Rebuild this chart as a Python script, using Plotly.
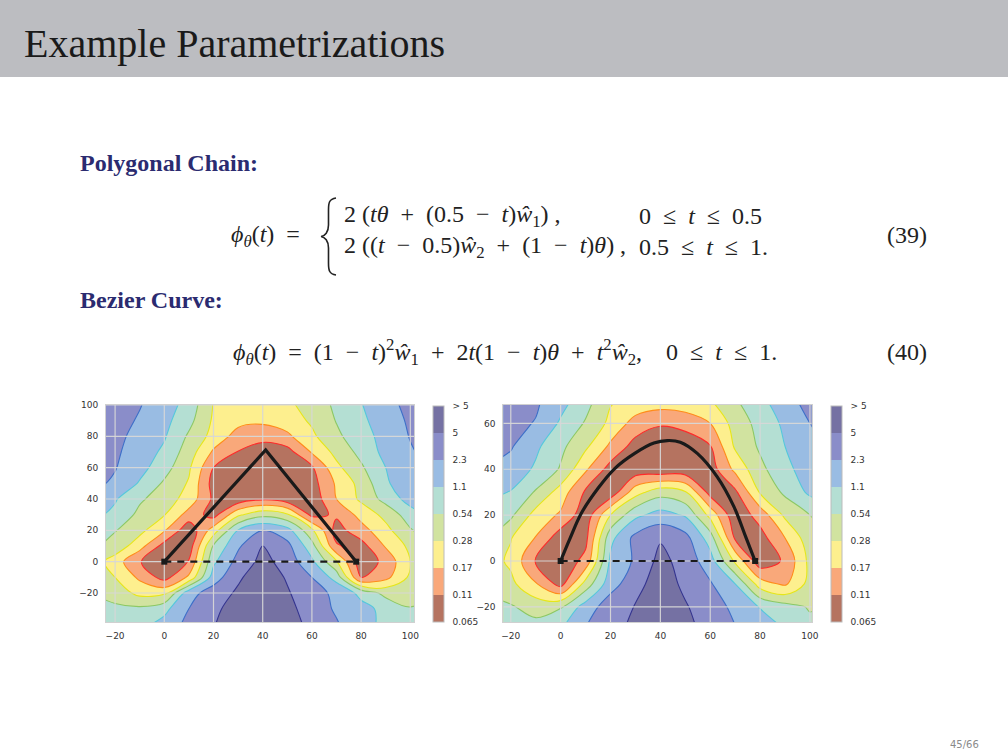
import plotly.graph_objects as go

# grid nodes of the loss surface, in colour-band units
# (0..1 brown, 1..2 orange, ... 7..8 dark purple)
grid_x = [-30, -20, -10, 0, 10, 20, 30, 40, 50, 60, 70, 80, 90, 100, 110]

grid_y_poly = [-40, -30, -20, -10, 0, 10, 20, 30, 40, 50, 60, 70, 80, 90, 100]
z_poly = [
    [4.7, 4.6, 4.7, 5.35, 6.3, 6.95, 7.5, 8.0, 7.4, 6.75, 6.1, 5.3, 4.8, 4.4, 4.5],
    [4.4, 4.2, 4.2, 4.7, 6.0, 6.8, 7.4, 7.9, 7.25, 6.6, 5.85, 5.35, 4.7, 4.05, 4.3],
    [4.0, 3.6, 2.7, 2.75, 5.6, 6.5, 7.15, 7.8, 7.1, 6.35, 5.8, 4.7, 3.7, 3.6, 4.0],
    [3.7, 3.0, 1.8, 0.6, 2.2, 5.5, 6.85, 7.6, 6.9, 6.0, 4.6, 0.9, 1.7, 3.2, 3.9],
    [3.6, 2.5, 1.05, 0.3, 1.05, 4.8, 6.35, 7.3, 6.6, 5.2, 3.1, 0.3, 1.3, 3.0, 3.8],
    [4.2, 3.65, 2.4, 0.6, 0.45, 4.1, 5.85, 7.0, 6.3, 4.4, 1.1, 0.6, 2.1, 3.25, 4.3],
    [4.5, 4.05, 3.3, 2.1, 0.3, 2.5, 5.05, 6.0, 5.4, 3.2, 0.6, 1.6, 2.7, 3.9, 4.7],
    [5.3, 4.75, 3.75, 3.05, 1.6, 0.6, 2.8, 3.7, 3.15, 0.7, 1.15, 2.35, 3.3, 4.55, 5.3],
    [5.7, 5.1, 4.15, 3.5, 2.6, 0.8, 0.35, 0.85, 0.4, 0.35, 2.0, 3.2, 4.35, 5.4, 6.0],
    [6.25, 5.85, 4.9, 3.85, 2.9, 0.6, 0.35, 0.5, 0.35, 0.6, 2.15, 3.35, 4.85, 5.7, 6.2],
    [6.4, 6.05, 5.35, 4.4, 3.15, 1.0, 0.4, 0.35, 0.35, 0.85, 2.75, 3.85, 5.0, 5.85, 6.2],
    [6.55, 6.15, 5.55, 4.8, 3.5, 1.85, 0.95, 0.45, 0.6, 2.1, 3.3, 4.3, 5.3, 5.9, 6.4],
    [6.6, 6.25, 5.7, 5.1, 3.85, 2.65, 1.6, 1.35, 1.8, 2.8, 3.8, 4.6, 5.35, 6.05, 6.5],
    [6.7, 6.35, 5.9, 5.3, 4.3, 2.85, 2.3, 2.2, 2.5, 3.15, 4.05, 4.8, 5.5, 6.15, 6.7],
    [6.8, 6.45, 6.05, 5.5, 4.6, 2.95, 2.6, 2.5, 2.8, 3.4, 4.2, 4.95, 5.65, 6.3, 6.85],
]

grid_y_bez = [-30, -20, -10, 0, 10, 20, 30, 40, 50, 60, 70]
z_bez = [
    [4.6, 4.5, 4.45, 4.95, 6.05, 6.75, 7.2, 7.95, 7.3, 6.65, 6.05, 5.45, 5.0, 4.35, 4.1],
    [4.3, 4.1, 3.6, 3.9, 5.45, 6.55, 7.05, 7.8, 7.1, 6.4, 5.8, 4.95, 4.4, 3.9, 4.2],
    [3.7, 3.25, 2.1, 0.6, 3.4, 5.6, 6.6, 7.6, 6.75, 6.1, 5.0, 2.5, 1.8, 3.35, 3.9],
    [3.55, 2.8, 0.95, 0.3, 1.3, 5.2, 6.15, 7.3, 6.6, 5.45, 2.8, 0.35, 1.15, 3.3, 3.7],
    [4.05, 3.05, 1.95, 0.4, 0.7, 4.7, 6.3, 6.9, 6.35, 4.5, 0.85, 0.6, 2.0, 3.6, 4.2],
    [4.55, 4.2, 2.6, 1.85, 0.35, 3.0, 4.75, 5.4, 4.9, 2.7, 0.3, 1.4, 3.2, 4.0, 4.6],
    [5.3, 4.95, 3.9, 2.55, 0.85, 0.3, 2.6, 3.6, 3.1, 0.6, 0.8, 3.1, 4.2, 5.2, 5.7],
    [5.95, 5.6, 4.85, 3.9, 2.15, 0.6, 0.35, 0.25, 0.3, 0.5, 2.25, 3.75, 4.7, 5.55, 6.0],
    [6.35, 6.1, 5.2, 4.25, 3.2, 1.8, 0.6, 0.3, 0.35, 0.95, 3.15, 4.15, 5.0, 5.7, 6.2],
    [6.55, 6.25, 5.95, 4.85, 3.9, 2.75, 1.6, 1.1, 1.35, 2.0, 3.4, 4.35, 5.2, 6.0, 6.5],
    [6.7, 6.45, 6.15, 5.4, 4.4, 3.1, 2.75, 2.6, 2.7, 2.95, 3.9, 4.75, 5.6, 6.4, 7.1],
]

# paths
poly_x = [0, 41.2, 78]
poly_y = [0, 71.3, 0]
bez_x = [0, 3.6, 8.3, 15, 21.7, 29.7, 37.4, 42.8, 48, 54.8, 62.8, 69.5, 74.2, 78]
bez_y = [0, 9.4, 20.8, 31.7, 40.3, 46.9, 51.4, 52.5, 51.8, 46.9, 36.7, 23.7, 10.6, 0]
end_x = [0, 78]
end_y = [0, 0]

# colour bar
band_labels = ["0.065", "0.11", "0.17", "0.28", "0.54", "1.1", "2.3", "5", "> 5"]
fill_colors = ["#b57360", "#f9a87a", "#fdef8e", "#d1e3a0", "#b4dfd3",
               "#99bce3", "#8a8dc9", "#7571a3"]
line_colors = ["#ff2a2a", "#ff8c1a", "#e6e61a", "#8cc864", "#55c8dc",
               "#3d6fc8", "#34348f"]

x_ticks = [-20, 0, 20, 40, 60, 80, 100]
y_ticks_poly = [-20, 0, 20, 40, 60, 80, 100]
y_ticks_bez = [-20, 0, 20, 40, 60]
x_range_poly = [-23.7, 101.5]
y_range_poly = [-38.5, 100]
x_range_bez = [-23, 100.7]
y_range_bez = [-26.6, 68]

W, H = 1008, 756
TXT = "#222"
BLUE_TXT = "#2b2b70"
SERIF = "Liberation Serif, Times New Roman, serif"

fill_scale = [[i / 7, c] for i, c in enumerate(fill_colors)]
line_scale = [[i / 6, c] for i, c in enumerate(line_colors)]


def cbar(x0):
    return dict(
        x=x0 / W, xanchor="left", xpad=0, ypad=0,
        y=1 - 513.7 / H, yanchor="middle",
        len=216 / H, lenmode="fraction",
        thickness=11, thicknessmode="pixels",
        outlinecolor="#bbbbbb", outlinewidth=1,
        tickvals=list(range(9)), ticktext=["&nbsp;&nbsp;" + t for t in band_labels],
        ticks="", tickfont=dict(family="DejaVu Sans", size=9, color="#333"),
    )


fig = go.Figure()


def add_panel(xa, ya, gy, z, cb_x, path_x, path_y, spline):
    fig.add_trace(go.Contour(
        x=grid_x, y=gy, z=z, xaxis=xa, yaxis=ya,
        autocontour=False, contours=dict(start=1, end=7, size=1, coloring="fill"),
        colorscale=fill_scale, zmin=0, zmax=8,
        line=dict(width=0, smoothing=1.0),
        colorbar=cbar(cb_x), hoverinfo="skip",
    ))
    fig.add_trace(go.Contour(
        x=grid_x, y=gy, z=z, xaxis=xa, yaxis=ya,
        autocontour=False, contours=dict(start=1, end=7, size=1, coloring="lines"),
        colorscale=line_scale, showscale=False,
        line=dict(width=1.1, smoothing=1.0), hoverinfo="skip",
    ))
    # grid drawn over the fills
    xr = fig.layout[xa.replace("x", "xaxis")].range
    yr = fig.layout[ya.replace("y", "yaxis")].range
    gx, gyl = [], []
    for t in x_ticks:
        gx += [t, t, None]
        gyl += [yr[0], yr[1], None]
    yt = y_ticks_poly if ya == "y" else y_ticks_bez
    for t in yt:
        gx += [xr[0], xr[1], None]
        gyl += [t, t, None]
    fig.add_trace(go.Scatter(x=gx, y=gyl, xaxis=xa, yaxis=ya, mode="lines",
                             line=dict(color="rgba(215,215,215,0.95)", width=1.2),
                             hoverinfo="skip", showlegend=False))
    fig.add_trace(go.Scatter(x=end_x, y=end_y, xaxis=xa, yaxis=ya, mode="lines",
                             line=dict(color="#1a1a1a", width=2.2, dash="7px,6px"),
                             hoverinfo="skip", showlegend=False))
    fig.add_trace(go.Scatter(x=path_x, y=path_y, xaxis=xa, yaxis=ya, mode="lines",
                             line=dict(color="#1a1a1a", width=3.2,
                                       shape="spline" if spline else "linear"),
                             hoverinfo="skip", showlegend=False))
    fig.add_trace(go.Scatter(x=end_x, y=end_y, xaxis=xa, yaxis=ya, mode="markers",
                             marker=dict(color="#1a1a1a", size=6, symbol="square"),
                             hoverinfo="skip", showlegend=False))


axis_common = dict(showgrid=False, zeroline=False, ticks="", showline=True, mirror=True,
                   linecolor="#d0d0d0", linewidth=1, ticklabelstandoff=5,
                   tickfont=dict(family="DejaVu Sans", size=9, color="#333"))

fig.update_layout(
    width=W, height=H, margin=dict(l=0, r=0, t=0, b=0, pad=0, autoexpand=False),
    paper_bgcolor="white", plot_bgcolor="white", showlegend=False,
    xaxis=dict(domain=[106 / W, 414 / W], range=x_range_poly, tickvals=x_ticks,
               anchor="y", **axis_common),
    yaxis=dict(domain=[1 - 622 / H, 1 - 405 / H], range=y_range_poly,
               tickvals=y_ticks_poly, anchor="x", **axis_common),
    xaxis2=dict(domain=[503.3 / W, 811.7 / W], range=x_range_bez, tickvals=x_ticks,
                anchor="y2", **axis_common),
    yaxis2=dict(domain=[1 - 622 / H, 1 - 405 / H], range=y_range_bez,
                tickvals=y_ticks_bez, anchor="x2", **axis_common),
)

add_panel("x", "y", grid_y_poly, z_poly, 433, poly_x, poly_y, False)
add_panel("x2", "y2", grid_y_bez, z_bez, 830.7, bez_x, bez_y, True)

# slide header
fig.add_shape(type="rect", xref="paper", yref="paper", x0=0, x1=1, y0=1 - 77 / H, y1=1,
              fillcolor="#bcbdc1", line=dict(width=0), layer="below")


def P(px, py):
    return f"{px / W:.5f},{1 - py / H:.5f}"


# curly brace of the case distinction
brace = ("M " + P(336, 198) + " C " + P(329, 199) + " " + P(328.5, 203) + " " + P(328.5, 210)
         + " L " + P(328.5, 225) + " C " + P(328.5, 232) + " " + P(325, 236) + " " + P(321, 236.5)
         + " C " + P(325, 237) + " " + P(328.5, 241) + " " + P(328.5, 248)
         + " L " + P(328.5, 263) + " C " + P(328.5, 270) + " " + P(329, 274) + " " + P(336, 275))
fig.add_shape(type="path", xref="paper", yref="paper", path=brace,
              line=dict(color=TXT, width=1.6))


def note(px, py, text, size=24, color=TXT, anchor="left", family=SERIF):
    fig.add_annotation(x=px / W, y=1 - py / H, xref="paper", yref="paper", text=text,
                       showarrow=False, xanchor=anchor, yanchor="middle",
                       font=dict(family=family, size=size, color=color))


S = "&nbsp;"
op = lambda o: S + S + o + S + S

note(22, 44, "Example Parametrizations", size=40, color="#1a1a1a")
note(78, 163, "<b>Polygonal Chain:</b>", size=24, color=BLUE_TXT)
note(78, 300, "<b>Bezier Curve:</b>", size=24, color=BLUE_TXT)

phi = "<i>ϕ</i><sub><i>θ</i></sub>(<i>t</i>)"
note(229, 236, phi + op("="))
note(342, 216, "2" + S + "(<i>tθ</i>" + op("+") + "(0.5" + op("−") + "<i>t</i>)<i>ŵ</i><sub>1</sub>)" + S + ",")
note(637, 216, "0" + op("≤") + "<i>t</i>" + op("≤") + "0.5")
note(342, 247, "2" + S + "((<i>t</i>" + op("−") + "0.5)<i>ŵ</i><sub>2</sub>" + op("+") + "(1" + op("−")
     + "<i>t</i>)<i>θ</i>)" + S + ",")
note(637, 247, "0.5" + op("≤") + "<i>t</i>" + op("≤") + "1.")
note(929, 235, "(39)", anchor="right")

note(231, 352, phi + op("=") + "(1" + op("−") + "<i>t</i>)<sup>2</sup><i>ŵ</i><sub>1</sub>" + op("+")
     + "2<i>t</i>(1" + op("−") + "<i>t</i>)<i>θ</i>" + op("+") + "<i>t</i><sup>2</sup><i>ŵ</i><sub>2</sub>,"
     + S * 4 + "0" + op("≤") + "<i>t</i>" + op("≤") + "1.")
note(929, 352, "(40)", anchor="right")

note(981, 744, "45/66", size=10, color="#8a8a8a", anchor="right", family="DejaVu Sans")

fig.write_html(
    "out.html",
    config={"displayModeBar": False},
    post_script="document.body.style.margin='0px';"
                "document.body.style.overflow='hidden';"
                "document.documentElement.style.overflow='hidden';",
)
